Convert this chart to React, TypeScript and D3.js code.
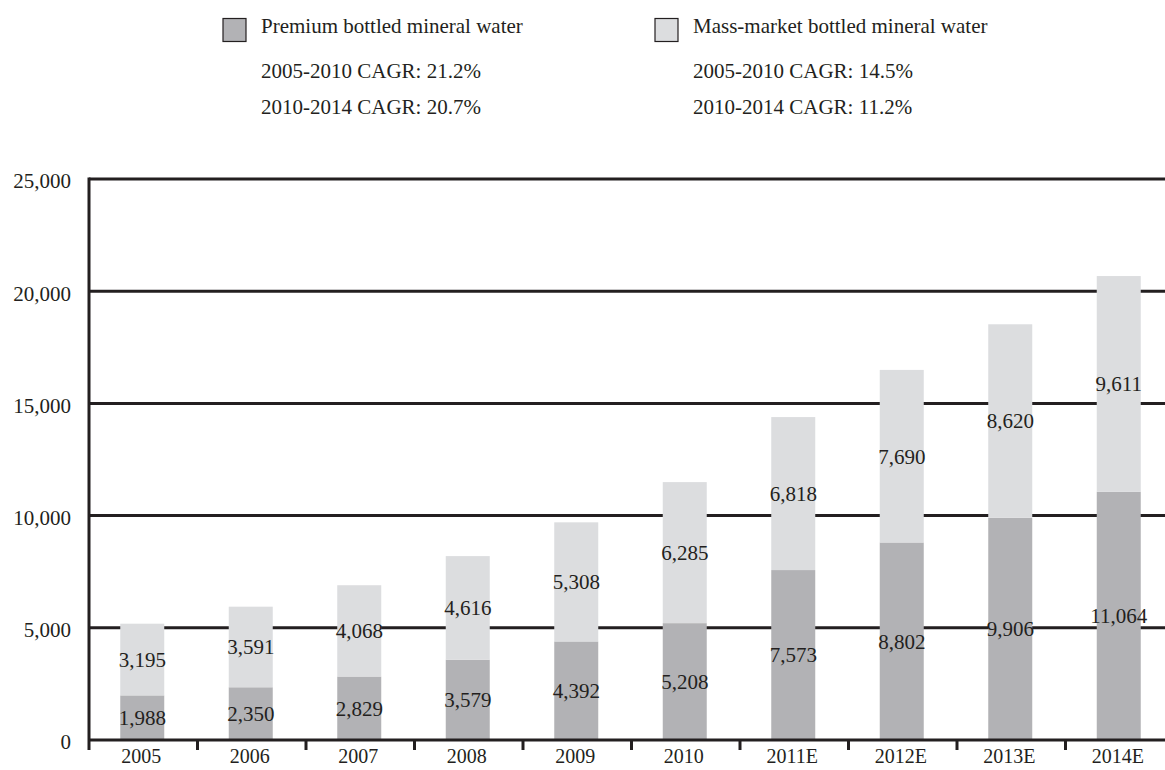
import React from "react";
import * as d3 from "d3";

// Bottled mineral water market, by year (2011-2014 estimated)
const years = ["2005", "2006", "2007", "2008", "2009", "2010", "2011E", "2012E", "2013E", "2014E"];
const premium = [1988, 2350, 2829, 3579, 4392, 5208, 7573, 8802, 9906, 11064];
const massMarket = [3195, 3591, 4068, 4616, 5308, 6285, 6818, 7690, 8620, 9611];
const yTicks = [0, 5000, 10000, 15000, 20000, 25000];

const seriesNames = ["Premium bottled mineral water", "Mass-market bottled mineral water"];
const premiumCagr = ["2005-2010 CAGR: 21.2%", "2010-2014 CAGR: 20.7%"];
const massCagr = ["2005-2010 CAGR: 14.5%", "2010-2014 CAGR: 11.2%"];

const W = 1165;
const H = 770;
const INK = "#231f20";
const COLORS = ["#b2b2b5", "#dcdddf"];
const FONT = "'Liberation Serif', 'Times New Roman', Times, serif";

export default function App() {
  const x = d3.scaleBand<string>().domain(years).range([89, 1174]);
  const y = d3.scaleLinear().domain([0, 25000]).range([740, 179]);
  const barW = 44;

  const table = years.map((yr, i) => ({ year: yr, premium: premium[i], mass: massMarket[i] }));
  const stack = d3.stack<any>().keys(["premium", "mass"])(table);

  const fmt = d3.format(",");
  const left = 89;
  const right = W;
  const cx = (yr: string) => (x(yr) as number) + x.bandwidth() / 2 - 1;

  const legendCols = [
    { x: 223, name: seriesNames[0], cagr: premiumCagr, color: COLORS[0] },
    { x: 655, name: seriesNames[1], cagr: massCagr, color: COLORS[1] },
  ];

  return (
    <svg
      width={W}
      height={H}
      viewBox={`0 0 ${W} ${H}`}
      style={{ position: "absolute", left: 0, top: 0, background: "#fff", fontFamily: FONT }}
    >
      {/* legend */}
      {legendCols.map((c, i) => (
        <g key={i}>
          <rect x={c.x} y={18.5} width={23} height={23} fill={c.color} stroke={INK} strokeWidth={1.2} />
          <text x={c.x + 38} y={33} fontSize={21} fill={INK}>{c.name}</text>
          <text x={c.x + 38} y={78} fontSize={21} fill={INK}>{c.cagr[0]}</text>
          <text x={c.x + 38} y={114} fontSize={21} fill={INK}>{c.cagr[1]}</text>
        </g>
      ))}

      {/* horizontal grid */}
      {yTicks.filter((t) => t > 0).map((t) => (
        <line key={t} x1={left} x2={right} y1={y(t)} y2={y(t)} stroke={INK} strokeWidth={3} />
      ))}

      {/* stacked bars */}
      {stack.map((layer, li) => (
        <g key={li}>
          {layer.map((d, i) => (
            <rect
              key={i}
              x={cx(years[i]) - barW / 2}
              y={y(d[1])}
              width={barW}
              height={y(d[0]) - y(d[1])}
              fill={COLORS[li]}
            />
          ))}
        </g>
      ))}

      {/* axes */}
      <line x1={left} x2={right} y1={y(0)} y2={y(0)} stroke={INK} strokeWidth={3} />
      <line x1={left} x2={left} y1={y(25000) - 1.5} y2={750} stroke={INK} strokeWidth={3} />
      {years.slice(1).map((yr) => (
        <line key={yr} x1={x(yr)} x2={x(yr)} y1={y(0)} y2={750} stroke={INK} strokeWidth={3} />
      ))}

      {/* y tick labels */}
      {yTicks.map((t) => (
        <text key={t} x={71} y={y(t) + 2} dy="0.35em" textAnchor="end" fontSize={21} fill={INK}>
          {fmt(t)}
        </text>
      ))}

      {/* x tick labels */}
      {years.map((yr) => (
        <text key={yr} x={cx(yr) - 1} y={763} textAnchor="middle" fontSize={20} fill={INK}>
          {yr}
        </text>
      ))}

      {/* value labels */}
      {stack.map((layer, li) => (
        <g key={li}>
          {layer.map((d, i) => (
            <text
              key={i}
              x={cx(years[i])}
              y={(y(d[0]) + y(d[1])) / 2}
              dy="0.35em"
              textAnchor="middle"
              fontSize={21}
              fill={INK}
            >
              {fmt(li === 0 ? premium[i] : massMarket[i])}
            </text>
          ))}
        </g>
      ))}
    </svg>
  );
}
